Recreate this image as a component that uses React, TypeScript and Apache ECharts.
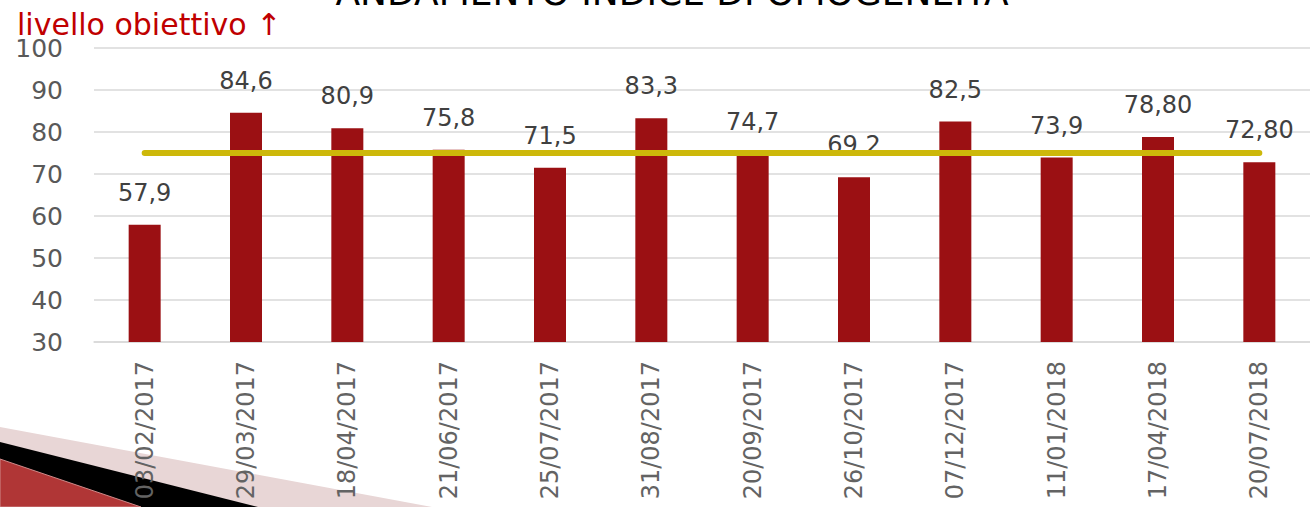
import React, { useEffect, useRef } from "react";
import * as echarts from "echarts";

const categories = [
  "03/02/2017", "29/03/2017", "18/04/2017", "21/06/2017", "25/07/2017", "31/08/2017",
  "20/09/2017", "26/10/2017", "07/12/2017", "11/01/2018", "17/04/2018", "20/07/2018",
];
const values = [57.9, 84.6, 80.9, 75.8, 71.5, 83.3, 74.7, 69.2, 82.5, 73.9, 78.8, 72.8];
const valueLabels = ["57,9", "84,6", "80,9", "75,8", "71,5", "83,3", "74,7", "69,2", "82,5", "73,9", "78,80", "72,80"];
const targetLevel = 75;
const targetValues = categories.map(() => targetLevel);
const yMin = 30;
const yMax = 100;
const yInterval = 10;
const titleText = "ANDAMENTO INDICE DI OMOGENEITÀ";
const targetNote = "livello obiettivo ↑";

const FONT = "'DejaVu Sans', Verdana, sans-serif";

export default function App() {
  const ref = useRef<HTMLDivElement>(null);
  useEffect(() => {
    if (!ref.current) return;
    const chart = echarts.init(ref.current, undefined, { renderer: "svg" });
    chart.setOption({
      animation: false,
      backgroundColor: "#ffffff",
      textStyle: { fontFamily: FONT },
      grid: { left: 94, right: -16, top: 48, bottom: 165, containLabel: false },
      xAxis: {
        type: "category",
        data: categories,
        axisLine: { show: true, lineStyle: { color: "#D9D9D9", width: 1.5 } },
        axisTick: { show: false },
        axisLabel: {
          rotate: 90,
          margin: 19,
          fontSize: 24,
          color: "#636363",
          fontFamily: FONT,
          interval: 0,
        },
      },
      yAxis: {
        type: "value",
        min: yMin,
        max: yMax,
        interval: yInterval,
        axisLine: { show: false },
        axisTick: { show: false },
        splitLine: { lineStyle: { color: "#D9D9D9", width: 1.5 } },
        axisLabel: { fontSize: 25, color: "#595959", margin: 31, fontFamily: FONT },
      },
      series: [
        {
          type: "bar",
          data: values,
          barWidth: 32,
          itemStyle: { color: "#9B1013" },
          label: {
            show: true,
            position: "top",
            distance: 20,
            fontSize: 24,
            color: "#404040",
            fontFamily: FONT,
            formatter: (p: any) => valueLabels[p.dataIndex],
          },
          z: 2,
        },
        {
          type: "line",
          data: targetValues,
          symbol: "none",
          lineStyle: { color: "#CDB80A", width: 6, cap: "round" },
          z: 3,
        },
      ],
      graphic: [
        {
          type: "polygon",
          z: -10,
          shape: { points: [[0, 427], [432, 507], [0, 507]] },
          style: { fill: "#E8D6D6" },
        },
        {
          type: "polygon",
          z: -9,
          shape: { points: [[0, 442], [258, 507], [0, 507]] },
          style: { fill: "#000000" },
        },
        {
          type: "polygon",
          z: -8,
          shape: { points: [[0, 459], [141, 507], [0, 507]] },
          style: { fill: "#B03636", stroke: "#D08A8A", lineWidth: 1 },
        },
        {
          type: "text",
          x: 672,
          y: -8,
          style: {
            text: titleText,
            fontSize: 36,
            fontFamily: FONT,
            fill: "#000000",
            align: "center",
            verticalAlign: "middle",
          },
        },
        {
          type: "text",
          x: 17,
          y: 24,
          style: {
            text: targetNote,
            fontSize: 30,
            fontFamily: FONT,
            fill: "#C00000",
            align: "left",
            verticalAlign: "middle",
          },
        },
      ],
    });
    return () => chart.dispose();
  }, []);
  return (
    <div
      ref={ref}
      style={{ position: "fixed", left: 0, top: 0, width: 1310, height: 507 }}
    />
  );
}
